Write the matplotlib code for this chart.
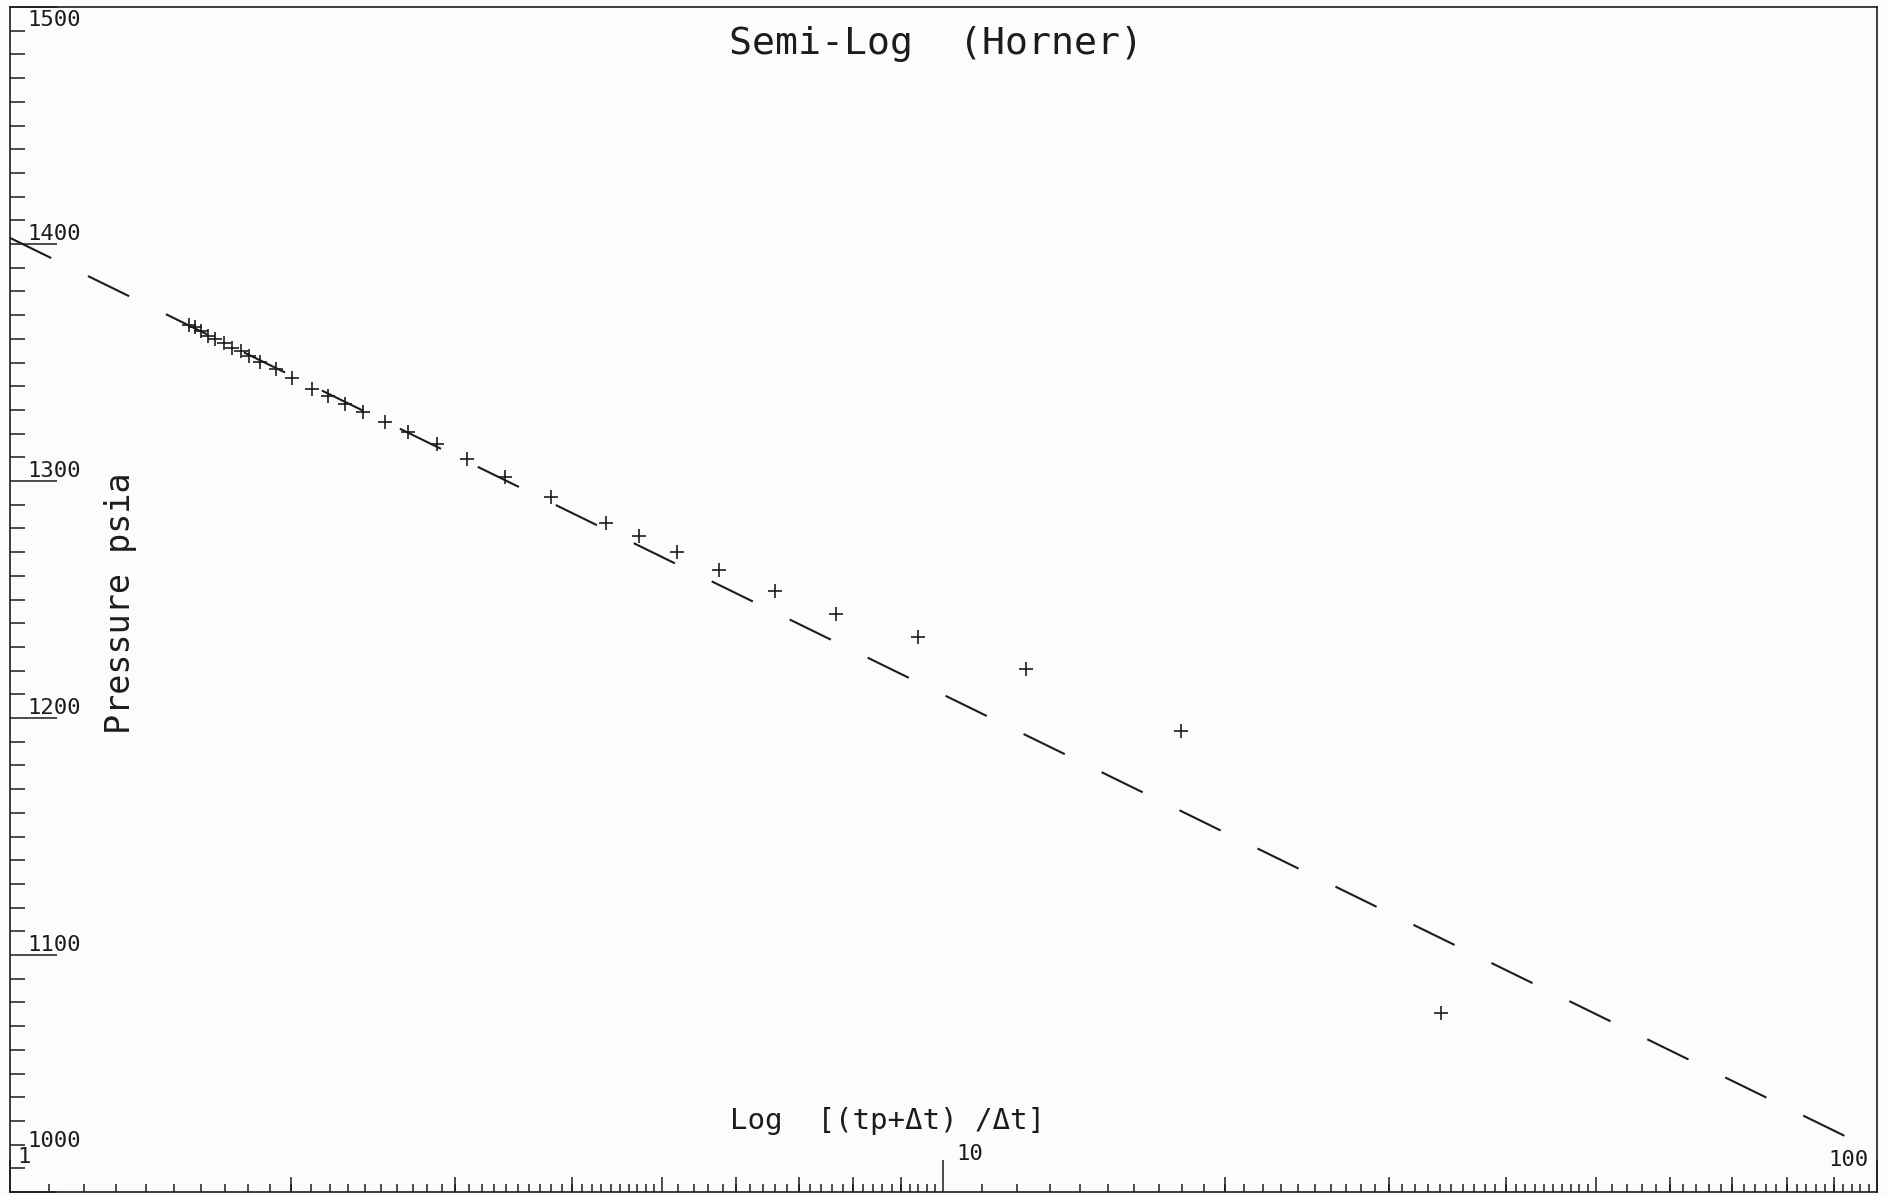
import numpy as np
import matplotlib
matplotlib.use('Agg')
import matplotlib.pyplot as plt

# Horner build-up points
horner_ratio = [1.555, 1.578, 1.602, 1.630, 1.660, 1.694, 1.730, 1.766, 1.803, 1.852,
                1.925, 2.007, 2.104, 2.193, 2.287, 2.390, 2.521, 2.668, 2.866, 3.086,
                3.393, 3.798, 4.353, 4.716, 5.186, 5.754, 6.597, 7.672, 9.388, 12.26,
                17.98, 34.13]
pressure = [1365.8, 1364.8, 1363.3, 1361.3, 1359.8, 1358.2, 1356.2, 1354.7, 1352.6, 1350.1,
            1347.1, 1343.5, 1338.9, 1335.9, 1332.3, 1329.3, 1324.7, 1320.7, 1315.6, 1309.5,
            1301.9, 1293.2, 1282.1, 1277.0, 1269.9, 1262.3, 1253.6, 1244.0, 1234.3, 1220.6,
            1194.7, 1075.4]

# straight line drawn through the early-time points
line_ratio = [1, 100]
line_pressure = [1402.6, 1017.0]

y_labels = [1000, 1100, 1200, 1300, 1400, 1500]
x_labels = [1, 10, 100]

plt.rcParams['font.family'] = ['DejaVu Sans Mono', 'DejaVu Sans']
plt.rcParams['lines.scale_dashes'] = False

ink = '#1c1c1c'
paper = '#fcfcfc'

fig = plt.figure(figsize=(18.87, 11.95), dpi=100, facecolor=paper)
ax = fig.add_axes([0.0053, 0.0025, 0.9894, 0.9916])
ax.set_facecolor(paper)
ax.set_xscale('log')
ax.set_xlim(1, 100)
ax.set_ylim(1000, 1500)

ax.plot(line_ratio, line_pressure, color=ink, lw=1.5, dashes=(33, 29.5))
ax.plot(horner_ratio, pressure, ls='none', marker='+', ms=9.5, mew=1.2, color=ink)

for s in ax.spines.values():
    s.set_linewidth(1.2)
    s.set_color(ink)

# plotter style ticks: small every step, medium at integers, long at decades
small = np.concatenate([np.arange(1.1, 5.0, 0.1), np.arange(5.2, 10.0, 0.2),
                        np.arange(11, 50, 1), np.arange(52, 100, 2)])
medium = [2, 3, 4, 5, 6, 7, 8, 9, 20, 30, 40, 50, 60, 70, 80, 90]
ax.set_xticks([1, 10, 100])
ax.set_xticks(small, minor=True)
ax.set_yticks(range(1000, 1501, 100))
ax.set_yticks(range(1000, 1501, 10), minor=True)
ax.tick_params(axis='x', which='major', direction='in', length=23, width=1.1, color=ink)
ax.tick_params(axis='x', which='minor', direction='in', length=5.8, width=1.1, color=ink)
ax.tick_params(axis='y', which='major', direction='in', length=34, width=1.1, color=ink)
ax.tick_params(axis='y', which='minor', direction='in', length=10.5, width=1.1, color=ink)
ax.tick_params(which='both', top=False, right=False, labelleft=False, labelbottom=False)

ax2 = ax.twiny()
ax2.set_xscale('log')
ax2.set_xlim(1, 100)
ax2.xaxis.set_ticks_position('bottom')
ax2.set_xticks(medium)
ax2.set_xticks([], minor=True)
ax2.tick_params(axis='x', which='major', direction='in', length=10.8, width=1.1, color=ink,
                labelbottom=False, labeltop=False)
for s in ax2.spines.values():
    s.set_visible(False)

# tick labels sit inside the frame, just above the ticks
for v in y_labels:
    if v == 1500:
        dy = -19
    elif v == 1000:
        dy = 45
    else:
        dy = 4
    ax.annotate(str(v), xy=(0, v), xycoords=ax.get_yaxis_transform(), xytext=(17, dy),
                textcoords='offset pixels', ha='left', va='baseline', fontsize=16, color=ink)

x_offsets = {1: (7, 29, 'left'), 10: (13, 32, 'left'), 100: (-8, 26, 'right')}
for v in x_labels:
    dx, dy, ha = x_offsets[v]
    ax.annotate(str(v), xy=(v, 0), xycoords=ax.get_xaxis_transform(), xytext=(dx, dy),
                textcoords='offset pixels', ha=ha, va='baseline', fontsize=16, color=ink)

ax.text(0.496, 0.969, 'Semi-Log  (Horner)', transform=ax.transAxes, ha='center', va='center',
        fontsize=27.5, color=ink)
ax.text(0.470, 0.060, 'Log  [(tp+\u0394t) /\u0394t]', transform=ax.transAxes, ha='center',
        va='center', fontsize=21, color=ink)
ax.text(0.059, 0.497, 'Pressure psia', transform=ax.transAxes, ha='center', va='center',
        rotation=90, fontsize=24, color=ink)

fig.savefig('out.png', dpi=100, facecolor=paper)
